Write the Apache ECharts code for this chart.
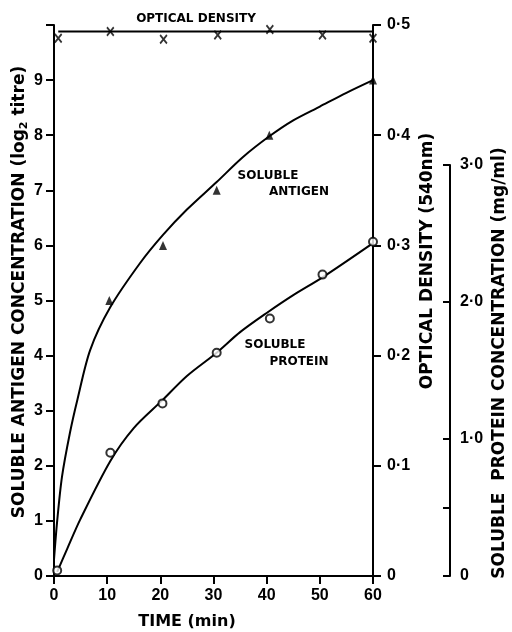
<!DOCTYPE html>
<html>
<head>
<meta charset="utf-8">
<script src="https://cdn.jsdelivr.net/npm/echarts@6/dist/echarts.min.js"></script>
<style>
  html, body { margin: 0; padding: 0; background: #fff; }
  #chart { width: 512px; height: 632px; }
</style>
</head>
<body>
<div id="chart"></div>
<script>
// values
const antigenT = [10.4, 20.5, 30.6, 40.5, 60];
const antigenV = [5.0, 6.0, 7.0, 8.0, 9.0];            // log2 titre
const antigenCurveT = [0, 0.6, 1.5, 3, 4.4, 6.8, 10.6, 16.2, 20.5, 25, 30.6, 35.5, 40.5, 45, 50, 55, 60];
const antigenCurveV = [0.3, 1.0, 1.8, 2.6, 3.2, 4.1, 4.88, 5.68, 6.19, 6.65, 7.15, 7.6, 7.98, 8.27, 8.52, 8.77, 9.0];

const proteinT = [0.6, 10.6, 20.4, 30.6, 40.6, 50.5, 60];
const proteinV = [0.04, 0.90, 1.26, 1.63, 1.88, 2.20, 2.44];   // mg/ml
const proteinCurveT = [0.6, 2.5, 4.9, 10.6, 15, 20.3, 25, 30.6, 35, 40, 45, 50.5, 60];
const proteinCurveV = [0.03, 0.2, 0.41, 0.84, 1.08, 1.28, 1.46, 1.63, 1.78, 1.92, 2.05, 2.18, 2.43];

const odT = [0.8, 10.6, 20.6, 30.8, 40.6, 50.5, 60];
const odV = [0.488, 0.494, 0.487, 0.491, 0.496, 0.491, 0.488];
const odLineT = [0.8, 60];
const odLineV = [0.494, 0.494];

const proteinTicks = [0, 0.5, 1, 2, 3];
const proteinLabels = [0, 1, 2, 3];

const zip = (a, b) => a.map((v, i) => [v, b[i]]);
const dot = v => String(v).replace('.', '·');

const FONT = 'Liberation Sans, Arial, sans-serif';
const TITLE_FONT = 'DejaVu Sans, sans-serif';
const INK = '#000';
const axisLine = { show: true, onZero: false, lineStyle: { color: INK, width: 2 } };
const tickStyle = { color: INK, width: 2 };
const tickLabel = { color: INK, fontFamily: FONT, fontSize: 16, fontWeight: 'bold' };
const crossPath = 'path://M0,1.5L1.5,0L5,3.5L8.5,0L10,1.5L6.5,5L10,8.5L8.5,10L5,6.5L1.5,10L0,8.5L3.5,5Z';

const myChart = echarts.init(document.getElementById('chart'), null, { renderer: 'canvas' });

const option = {
  backgroundColor: '#fff',
  animation: false,
  grid: [
    { left: 54, right: 139, top: 25, bottom: 56 },
    { left: 54, right: 139, top: 165, bottom: 56 }
  ],
  xAxis: [
    {
      gridIndex: 0, type: 'value', min: 0, max: 60, interval: 10,
      axisLine, splitLine: { show: false },
      axisTick: { show: true, length: 8, lineStyle: tickStyle },
      axisLabel: { ...tickLabel, margin: 12 }
    },
    { gridIndex: 1, type: 'value', min: 0, max: 60, show: false }
  ],
  yAxis: [
    {
      gridIndex: 0, type: 'value', min: 0, max: 10, interval: 1, position: 'left',
      axisLine, splitLine: { show: false },
      axisTick: { show: true, length: 8, lineStyle: tickStyle },
      axisLabel: { ...tickLabel, margin: 11, formatter: v => (v === 10 ? '' : v) }
    },
    {
      gridIndex: 0, type: 'value', min: 0, max: 0.5, interval: 0.1, position: 'right',
      axisLine, splitLine: { show: false },
      axisTick: { show: true, length: 8, lineStyle: tickStyle },
      axisLabel: { ...tickLabel, margin: 14, formatter: v => dot(+v.toFixed(1)) }
    },
    {
      gridIndex: 1, type: 'value', min: 0, max: 3, interval: 0.5, position: 'right', offset: 77,
      axisLine, splitLine: { show: false },
      axisTick: { show: true, inside: true, length: 7, customValues: proteinTicks, lineStyle: tickStyle },
      axisLabel: { ...tickLabel, margin: 10, customValues: proteinLabels,
        formatter: v => (v === 0 ? '0' : dot(v.toFixed(1))) }
    }
  ],
  series: [
    {
      name: 'antigen curve', type: 'line', xAxisIndex: 0, yAxisIndex: 0,
      data: zip(antigenCurveT, antigenCurveV), smooth: 0.3, showSymbol: false,
      lineStyle: { color: INK, width: 2 }
    },
    {
      name: 'soluble antigen', type: 'scatter', xAxisIndex: 0, yAxisIndex: 0,
      data: zip(antigenT, antigenV), symbol: 'triangle', symbolSize: [8, 9],
      itemStyle: { color: INK }, z: 5
    },
    {
      name: 'protein curve', type: 'line', xAxisIndex: 1, yAxisIndex: 2,
      data: zip(proteinCurveT, proteinCurveV), smooth: 0.3, showSymbol: false,
      lineStyle: { color: INK, width: 2 }
    },
    {
      name: 'soluble protein', type: 'scatter', xAxisIndex: 1, yAxisIndex: 2,
      data: zip(proteinT, proteinV), symbol: 'circle', symbolSize: 8,
      itemStyle: { color: '#fff', borderColor: INK, borderWidth: 2 }, z: 5
    },
    {
      name: 'od line', type: 'line', xAxisIndex: 0, yAxisIndex: 1,
      data: zip(odLineT, odLineV), showSymbol: false,
      lineStyle: { color: INK, width: 2 }
    },
    {
      name: 'optical density', type: 'scatter', xAxisIndex: 0, yAxisIndex: 1,
      data: zip(odT, odV), symbol: crossPath, symbolSize: [8, 10],
      itemStyle: { color: INK }, z: 5
    }
  ],
  graphic: [
    { type: 'text', x: 196, y: 19, style: { text: 'OPTICAL DENSITY', font: 'bold 12px ' + TITLE_FONT, fill: INK, align: 'center', verticalAlign: 'middle' } },
    { type: 'text', x: 268, y: 176, style: { text: 'SOLUBLE', font: 'bold 12px ' + TITLE_FONT, fill: INK, align: 'center', verticalAlign: 'middle' } },
    { type: 'text', x: 299, y: 192, style: { text: 'ANTIGEN', font: 'bold 12px ' + TITLE_FONT, fill: INK, align: 'center', verticalAlign: 'middle' } },
    { type: 'text', x: 275, y: 345, style: { text: 'SOLUBLE', font: 'bold 12px ' + TITLE_FONT, fill: INK, align: 'center', verticalAlign: 'middle' } },
    { type: 'text', x: 299, y: 362, style: { text: 'PROTEIN', font: 'bold 12px ' + TITLE_FONT, fill: INK, align: 'center', verticalAlign: 'middle' } },
    { type: 'text', x: 187, y: 622, style: { text: 'TIME (min)', font: 'bold 16px ' + TITLE_FONT, fill: INK, align: 'center', verticalAlign: 'middle' } },
    {
      type: 'text', x: 20, y: 292, rotation: Math.PI / 2,
      style: {
        text: '{a|SOLUBLE ANTIGEN CONCENTRATION (log}{s|2}{a| titre)}',
        align: 'center', verticalAlign: 'middle',
        rich: {
          a: { fontFamily: TITLE_FONT, fontSize: 17, fontWeight: 'bold', fill: INK },
          s: { fontFamily: TITLE_FONT, fontSize: 11, fontWeight: 'bold', fill: INK, padding: [8, 0, 0, 0] }
        }
      }
    },
    { type: 'text', x: 428, y: 261, rotation: Math.PI / 2,
      style: { text: 'OPTICAL DENSITY (540nm)', font: 'bold 17px ' + TITLE_FONT, fill: INK, align: 'center', verticalAlign: 'middle' } },
    { type: 'text', x: 500, y: 363, rotation: Math.PI / 2,
      style: { text: 'SOLUBLE  PROTEIN CONCENTRATION (mg/ml)', font: 'bold 17px ' + TITLE_FONT, fill: INK, align: 'center', verticalAlign: 'middle' } }
  ]
};

myChart.setOption(option);
</script>
</body>
</html>
